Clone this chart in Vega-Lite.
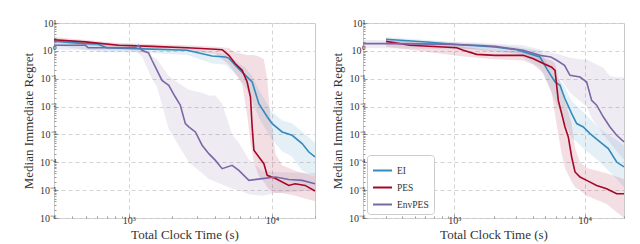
{
  "$schema": "https://vega.github.io/schema/vega-lite/v6.json",
  "padding": {"left": 22, "top": 17, "right": 5, "bottom": 0},
  "spacing": 12,
  "config": {
    "font": "Liberation Serif",
    "view": {"stroke": "#c8c8c8", "strokeWidth": 1},
    "axis": {
      "domain": false,
      "grid": true,
      "gridDash": [4, 3],
      "gridColor": "#d4d4d4",
      "gridWidth": 1,
      "labelFont": "Liberation Serif",
      "titleFont": "Liberation Serif",
      "labelFontSize": 10,
      "titleFontSize": 13,
      "titleFontWeight": "normal",
      "labelColor": "#333333",
      "titleColor": "#333333",
      "tickColor": "#999999",
      "labelOverlap": false
    },
    "axisX": {"labelPadding": 1, "titlePadding": 1},
    "axisY": {"labelPadding": 2, "titlePadding": 4},
    "legend": {"labelFont": "Liberation Serif"}
  },
  "resolve": {"scale": {"color": "independent"}, "legend": {"color": "independent"}},
  "datasets": {
    "lines": [
      {"p":"L","m":"EI","t":300,"v":2.24},{"p":"L","m":"EI","t":497,"v":1.82},{"p":"L","m":"EI","t":600,"v":1.78},{"p":"L","m":"EI","t":700,"v":1.29},{"p":"L","m":"EI","t":1104,"v":1.2},{"p":"L","m":"EI","t":2553,"v":1.05},{"p":"L","m":"EI","t":3819,"v":0.65},{"p":"L","m":"EI","t":4732,"v":0.6},{"p":"L","m":"EI","t":5000,"v":0.55},{"p":"L","m":"EI","t":5715,"v":0.26},{"p":"L","m":"EI","t":6531,"v":0.132},{"p":"L","m":"EI","t":7278,"v":0.076},{"p":"L","m":"EI","t":8107,"v":0.0126},{"p":"L","m":"EI","t":9268,"v":0.0043},{"p":"L","m":"EI","t":10044,"v":0.00245},{"p":"L","m":"EI","t":11786,"v":0.00123},{"p":"L","m":"EI","t":13840,"v":0.00093},{"p":"L","m":"EI","t":16255,"v":0.00047},{"p":"L","m":"EI","t":18113,"v":0.000234},{"p":"L","m":"EI","t":20000,"v":0.000155},
      {"p":"L","m":"PES","t":300,"v":2.5},{"p":"L","m":"PES","t":497,"v":2.1},{"p":"L","m":"PES","t":849,"v":1.58},{"p":"L","m":"PES","t":1452,"v":1.45},{"p":"L","m":"PES","t":2553,"v":1.29},{"p":"L","m":"PES","t":4027,"v":1.14},{"p":"L","m":"PES","t":4500,"v":1.1},{"p":"L","m":"PES","t":5000,"v":0.69},{"p":"L","m":"PES","t":5534,"v":0.35},{"p":"L","m":"PES","t":6194,"v":0.2},{"p":"L","m":"PES","t":6714,"v":0.076},{"p":"L","m":"PES","t":7080,"v":0.022},{"p":"L","m":"PES","t":7278,"v":0.00186},{"p":"L","m":"PES","t":7482,"v":0.00027},{"p":"L","m":"PES","t":8107,"v":0.000155},{"p":"L","m":"PES","t":8787,"v":0.000089},{"p":"L","m":"PES","t":9268,"v":0.000034},{"p":"L","m":"PES","t":10593,"v":0.000026},{"p":"L","m":"PES","t":13125,"v":0.0000148},{"p":"L","m":"PES","t":14526,"v":0.000017},{"p":"L","m":"PES","t":17060,"v":0.0000148},{"p":"L","m":"PES","t":20000,"v":0.0000093},
      {"p":"L","m":"EnvPES","t":300,"v":1.58},{"p":"L","m":"EnvPES","t":497,"v":1.58},{"p":"L","m":"EnvPES","t":520,"v":1.29},{"p":"L","m":"EnvPES","t":1104,"v":1.29},{"p":"L","m":"EnvPES","t":1172,"v":1.58},{"p":"L","m":"EnvPES","t":1236,"v":1.05},{"p":"L","m":"EnvPES","t":1377,"v":0.83},{"p":"L","m":"EnvPES","t":1452,"v":0.46},{"p":"L","m":"EnvPES","t":1574,"v":0.2},{"p":"L","m":"EnvPES","t":1706,"v":0.087},{"p":"L","m":"EnvPES","t":1901,"v":0.058},{"p":"L","m":"EnvPES","t":2114,"v":0.022},{"p":"L","m":"EnvPES","t":2291,"v":0.0112},{"p":"L","m":"EnvPES","t":2483,"v":0.00245},{"p":"L","m":"EnvPES","t":2624,"v":0.00186},{"p":"L","m":"EnvPES","t":2918,"v":0.00123},{"p":"L","m":"EnvPES","t":3251,"v":0.00041},{"p":"L","m":"EnvPES","t":3622,"v":0.000204},{"p":"L","m":"EnvPES","t":4027,"v":0.000117},{"p":"L","m":"EnvPES","t":4487,"v":0.000059},{"p":"L","m":"EnvPES","t":5271,"v":0.000078},{"p":"L","m":"EnvPES","t":5872,"v":0.000051},{"p":"L","m":"EnvPES","t":6902,"v":0.0000224},{"p":"L","m":"EnvPES","t":8546,"v":0.000026},{"p":"L","m":"EnvPES","t":10593,"v":0.0000295},{"p":"L","m":"EnvPES","t":13125,"v":0.000024},{"p":"L","m":"EnvPES","t":16255,"v":0.0000224},{"p":"L","m":"EnvPES","t":20000,"v":0.000017},
      {"p":"R","m":"EI","t":300,"v":2.6},{"p":"R","m":"EI","t":615,"v":2.09},{"p":"R","m":"EI","t":1107,"v":1.66},{"p":"R","m":"EI","t":2054,"v":1.38},{"p":"R","m":"EI","t":3011,"v":1.1},{"p":"R","m":"EI","t":4540,"v":0.6},{"p":"R","m":"EI","t":5112,"v":0.23},{"p":"R","m":"EI","t":5921,"v":0.076},{"p":"R","m":"EI","t":6465,"v":0.058},{"p":"R","m":"EI","t":7058,"v":0.019},{"p":"R","m":"EI","t":7944,"v":0.0056},{"p":"R","m":"EI","t":8680,"v":0.00245},{"p":"R","m":"EI","t":9756,"v":0.00186},{"p":"R","m":"EI","t":10975,"v":0.00107},{"p":"R","m":"EI","t":13085,"v":0.00054},{"p":"R","m":"EI","t":15160,"v":0.00031},{"p":"R","m":"EI","t":17570,"v":0.000102},{"p":"R","m":"EI","t":20000,"v":0.000068},
      {"p":"R","m":"PES","t":300,"v":2.19},{"p":"R","m":"PES","t":458,"v":1.58},{"p":"R","m":"PES","t":825,"v":1.38},{"p":"R","m":"PES","t":1044,"v":1.29},{"p":"R","m":"PES","t":1174,"v":1.05},{"p":"R","m":"PES","t":1486,"v":0.75},{"p":"R","m":"PES","t":2054,"v":0.69},{"p":"R","m":"PES","t":3384,"v":0.69},{"p":"R","m":"PES","t":4036,"v":0.52},{"p":"R","m":"PES","t":4816,"v":0.35},{"p":"R","m":"PES","t":5588,"v":0.26},{"p":"R","m":"PES","t":5921,"v":0.2},{"p":"R","m":"PES","t":6274,"v":0.0166},{"p":"R","m":"PES","t":6657,"v":0.0056},{"p":"R","m":"PES","t":7058,"v":0.00186},{"p":"R","m":"PES","t":7484,"v":0.00081},{"p":"R","m":"PES","t":7944,"v":0.000155},{"p":"R","m":"PES","t":8428,"v":0.000045},{"p":"R","m":"PES","t":9206,"v":0.0000295},{"p":"R","m":"PES","t":10349,"v":0.0000224},{"p":"R","m":"PES","t":12340,"v":0.0000148},{"p":"R","m":"PES","t":14720,"v":0.0000112},{"p":"R","m":"PES","t":17570,"v":0.0000074},{"p":"R","m":"PES","t":20000,"v":0.0000074},
      {"p":"R","m":"EnvPES","t":200,"v":1.82},{"p":"R","m":"EnvPES","t":300,"v":1.82},{"p":"R","m":"EnvPES","t":825,"v":1.74},{"p":"R","m":"EnvPES","t":1486,"v":1.58},{"p":"R","m":"EnvPES","t":2054,"v":1.45},{"p":"R","m":"EnvPES","t":3384,"v":1.05},{"p":"R","m":"EnvPES","t":4540,"v":0.69},{"p":"R","m":"EnvPES","t":5500,"v":0.6},{"p":"R","m":"EnvPES","t":6101,"v":0.46},{"p":"R","m":"EnvPES","t":7000,"v":0.3},{"p":"R","m":"EnvPES","t":7711,"v":0.132},{"p":"R","m":"EnvPES","t":9206,"v":0.115},{"p":"R","m":"EnvPES","t":10349,"v":0.076},{"p":"R","m":"EnvPES","t":11300,"v":0.0166},{"p":"R","m":"EnvPES","t":12340,"v":0.0112},{"p":"R","m":"EnvPES","t":13870,"v":0.0043},{"p":"R","m":"EnvPES","t":15620,"v":0.00186},{"p":"R","m":"EnvPES","t":17570,"v":0.00093},{"p":"R","m":"EnvPES","t":20000,"v":0.00054}
    ],
    "bands": [
      {"p":"L","m":"EI","t":300,"lo":1.58,"hi":2.82},{"p":"L","m":"EI","t":650,"lo":0.89,"hi":1.78},{"p":"L","m":"EI","t":1104,"lo":0.89,"hi":1.58},{"p":"L","m":"EI","t":2553,"lo":0.71,"hi":1.32},{"p":"L","m":"EI","t":3819,"lo":0.355,"hi":0.89},{"p":"L","m":"EI","t":4732,"lo":0.316,"hi":0.79},{"p":"L","m":"EI","t":5715,"lo":0.126,"hi":0.4},{"p":"L","m":"EI","t":6531,"lo":0.05,"hi":0.25},{"p":"L","m":"EI","t":7278,"lo":0.0158,"hi":0.126},{"p":"L","m":"EI","t":8107,"lo":0.004,"hi":0.04},{"p":"L","m":"EI","t":9268,"lo":0.00126,"hi":0.0126},{"p":"L","m":"EI","t":10044,"lo":0.00063,"hi":0.0063},{"p":"L","m":"EI","t":11786,"lo":0.00025,"hi":0.00316},{"p":"L","m":"EI","t":13840,"lo":0.000158,"hi":0.0025},{"p":"L","m":"EI","t":16255,"lo":0.00005,"hi":0.00126},{"p":"L","m":"EI","t":20000,"lo":0.0000316,"hi":0.0005},
      {"p":"L","m":"PES","t":300,"lo":2.0,"hi":3.16},{"p":"L","m":"PES","t":849,"lo":1.26,"hi":1.9},{"p":"L","m":"PES","t":2553,"lo":1.0,"hi":1.58},{"p":"L","m":"PES","t":4027,"lo":0.79,"hi":1.41},{"p":"L","m":"PES","t":5000,"lo":0.316,"hi":1.26},{"p":"L","m":"PES","t":5534,"lo":0.158,"hi":0.89},{"p":"L","m":"PES","t":6194,"lo":0.063,"hi":0.79},{"p":"L","m":"PES","t":6714,"lo":0.005,"hi":0.71},{"p":"L","m":"PES","t":7080,"lo":0.0005,"hi":0.71},{"p":"L","m":"PES","t":7482,"lo":0.0001,"hi":0.71},{"p":"L","m":"PES","t":8107,"lo":0.0000316,"hi":0.63},{"p":"L","m":"PES","t":8787,"lo":0.00002,"hi":0.5},{"p":"L","m":"PES","t":9268,"lo":0.0000126,"hi":0.1},{"p":"L","m":"PES","t":9756,"lo":0.00001,"hi":0.004},{"p":"L","m":"PES","t":10593,"lo":0.0000079,"hi":0.0002},{"p":"L","m":"PES","t":11786,"lo":0.0000079,"hi":0.000079},{"p":"L","m":"PES","t":14526,"lo":0.0000063,"hi":0.00005},{"p":"L","m":"PES","t":20000,"lo":0.000004,"hi":0.0000316},
      {"p":"L","m":"EnvPES","t":300,"lo":1.12,"hi":2.0},{"p":"L","m":"EnvPES","t":1104,"lo":1.0,"hi":1.78},{"p":"L","m":"EnvPES","t":1236,"lo":0.63,"hi":1.41},{"p":"L","m":"EnvPES","t":1452,"lo":0.1,"hi":0.63},{"p":"L","m":"EnvPES","t":1574,"lo":0.05,"hi":0.5},{"p":"L","m":"EnvPES","t":1901,"lo":0.00158,"hi":0.126},{"p":"L","m":"EnvPES","t":2291,"lo":0.000316,"hi":0.063},{"p":"L","m":"EnvPES","t":2624,"lo":0.0001,"hi":0.04},{"p":"L","m":"EnvPES","t":3251,"lo":0.00004,"hi":0.0316},{"p":"L","m":"EnvPES","t":3622,"lo":0.000025,"hi":0.025},{"p":"L","m":"EnvPES","t":4027,"lo":0.00002,"hi":0.025},{"p":"L","m":"EnvPES","t":4487,"lo":0.0000158,"hi":0.0126},{"p":"L","m":"EnvPES","t":5271,"lo":0.0000112,"hi":0.001},{"p":"L","m":"EnvPES","t":5872,"lo":0.00001,"hi":0.0005},{"p":"L","m":"EnvPES","t":6902,"lo":0.0000071,"hi":0.000126},{"p":"L","m":"EnvPES","t":8546,"lo":0.0000063,"hi":0.00005},{"p":"L","m":"EnvPES","t":10593,"lo":0.0000079,"hi":0.000045},{"p":"L","m":"EnvPES","t":20000,"lo":0.00001,"hi":0.00004},
      {"p":"R","m":"EI","t":300,"lo":2.0,"hi":3.16},{"p":"R","m":"EI","t":1107,"lo":1.26,"hi":2.0},{"p":"R","m":"EI","t":3011,"lo":0.79,"hi":1.41},{"p":"R","m":"EI","t":4540,"lo":0.25,"hi":1.0},{"p":"R","m":"EI","t":5112,"lo":0.079,"hi":0.4},{"p":"R","m":"EI","t":5921,"lo":0.0158,"hi":0.158},{"p":"R","m":"EI","t":7058,"lo":0.0025,"hi":0.05},{"p":"R","m":"EI","t":7944,"lo":0.00079,"hi":0.0158},{"p":"R","m":"EI","t":9756,"lo":0.000316,"hi":0.0063},{"p":"R","m":"EI","t":13085,"lo":0.0001,"hi":0.00158},{"p":"R","m":"EI","t":17570,"lo":0.000025,"hi":0.00063},{"p":"R","m":"EI","t":20000,"lo":0.0000126,"hi":0.0004},
      {"p":"R","m":"PES","t":300,"lo":1.41,"hi":2.63},{"p":"R","m":"PES","t":1174,"lo":0.63,"hi":1.41},{"p":"R","m":"PES","t":2054,"lo":0.5,"hi":1.0},{"p":"R","m":"PES","t":3384,"lo":0.45,"hi":1.0},{"p":"R","m":"PES","t":4036,"lo":0.316,"hi":0.79},{"p":"R","m":"PES","t":4816,"lo":0.158,"hi":0.56},{"p":"R","m":"PES","t":5588,"lo":0.0316,"hi":0.45},{"p":"R","m":"PES","t":5921,"lo":0.005,"hi":0.355},{"p":"R","m":"PES","t":6274,"lo":0.001,"hi":0.126},{"p":"R","m":"PES","t":6657,"lo":0.0002,"hi":0.05},{"p":"R","m":"PES","t":7058,"lo":0.000063,"hi":0.0158},{"p":"R","m":"PES","t":7944,"lo":0.00002,"hi":0.0025},{"p":"R","m":"PES","t":8428,"lo":0.0000126,"hi":0.000316},{"p":"R","m":"PES","t":9206,"lo":0.00001,"hi":0.0001},{"p":"R","m":"PES","t":10349,"lo":0.0000063,"hi":0.000063},{"p":"R","m":"PES","t":14720,"lo":0.00000316,"hi":0.00004},{"p":"R","m":"PES","t":20000,"lo":0.000001,"hi":0.000025},
      {"p":"R","m":"EnvPES","t":200,"lo":1.26,"hi":2.51},{"p":"R","m":"EnvPES","t":1486,"lo":1.12,"hi":2.0},{"p":"R","m":"EnvPES","t":3384,"lo":0.79,"hi":1.58},{"p":"R","m":"EnvPES","t":4540,"lo":0.4,"hi":1.12},{"p":"R","m":"EnvPES","t":6101,"lo":0.158,"hi":0.79},{"p":"R","m":"EnvPES","t":7711,"lo":0.0316,"hi":0.56},{"p":"R","m":"EnvPES","t":9206,"lo":0.0158,"hi":0.5},{"p":"R","m":"EnvPES","t":10349,"lo":0.01,"hi":0.5},{"p":"R","m":"EnvPES","t":11300,"lo":0.004,"hi":0.4},{"p":"R","m":"EnvPES","t":13870,"lo":0.001,"hi":0.25},{"p":"R","m":"EnvPES","t":15620,"lo":0.0005,"hi":0.126},{"p":"R","m":"EnvPES","t":17570,"lo":0.00025,"hi":0.112},{"p":"R","m":"EnvPES","t":20000,"lo":0.000126,"hi":0.112}
    ]
  },
  "hconcat": [
    {
      "width": 261,
      "height": 195,
      "encoding": {
        "x": {
          "field": "t", "type": "quantitative",
          "scale": {"type": "log", "domain": [300, 20000]},
          "axis": {
            "title": "Total Clock Time (s)",
            "values": [300,400,500,600,700,800,900,1000,2000,3000,4000,5000,6000,7000,8000,9000,10000,20000],
            "labelExpr": "abs(log(datum.value)/LN10-round(log(datum.value)/LN10))<0.001 ? '10' + replace(replace(''+round(log(datum.value)/LN10),'3','³'),'4','⁴') : ''",
            "gridOpacity": {"condition": {"test": "abs(log(datum.value)/LN10-round(log(datum.value)/LN10))<0.001", "value": 1}, "value": 0},
            "tickSize": {"condition": {"test": "abs(log(datum.value)/LN10-round(log(datum.value)/LN10))<0.001", "value": -4}, "value": -2}
          }
        },
        "y": {"field": "lo", "type": "quantitative", "scale": {"type": "log", "domain": [0.000001, 10]}, "title": "Median Immediate Regret"}
      },
      "layer": [
        {"data": {"name": "bands"}, "transform": [{"filter": "datum.p == 'L' && datum.m == 'EI'"}], "mark": {"type": "area", "color": "#348ABD", "fillOpacity": 0.13}, "encoding": {"y2": {"field": "hi"}}},
        {"data": {"name": "bands"}, "transform": [{"filter": "datum.p == 'L' && datum.m == 'PES'"}], "mark": {"type": "area", "color": "#A60628", "fillOpacity": 0.13}, "encoding": {"y2": {"field": "hi"}}},
        {"data": {"name": "bands"}, "transform": [{"filter": "datum.p == 'L' && datum.m == 'EnvPES'"}], "mark": {"type": "area", "color": "#7A68A6", "fillOpacity": 0.13}, "encoding": {"y2": {"field": "hi"}}},
        {
          "data": {"name": "lines"},
          "transform": [{"filter": "datum.p == 'L'"}],
          "mark": {"type": "line", "strokeWidth": 1.6},
          "encoding": {
            "y": {
              "field": "v", "type": "quantitative",
              "scale": {"type": "log", "domain": [0.000001, 10]},
              "axis": {
                "title": "Median Immediate Regret",
                "values": [0.000001,0.000002,0.000003,0.000004,0.000005,0.000006,0.000007,0.000008,0.000009,0.00001,0.00002,0.00003,0.00004,0.00005,0.00006,0.00007,0.00008,0.00009,0.0001,0.0002,0.0003,0.0004,0.0005,0.0006,0.0007,0.0008,0.0009,0.001,0.002,0.003,0.004,0.005,0.006,0.007,0.008,0.009,0.01,0.02,0.03,0.04,0.05,0.06,0.07,0.08,0.09,0.1,0.2,0.3,0.4,0.5,0.6,0.7,0.8,0.9,1,2,3,4,5,6,7,8,9,10],
                "labelExpr": "abs(log(datum.value)/LN10-round(log(datum.value)/LN10))<0.001 ? '10' + replace(replace(replace(replace(replace(replace(replace(replace(''+round(log(datum.value)/LN10),'-','⁻'),'0','⁰'),'1','¹'),'2','²'),'3','³'),'4','⁴'),'5','⁵'),'6','⁶') : ''",
                "gridOpacity": {"condition": {"test": "abs(log(datum.value)/LN10-round(log(datum.value)/LN10))<0.001", "value": 1}, "value": 0},
                "tickSize": {"condition": {"test": "abs(log(datum.value)/LN10-round(log(datum.value)/LN10))<0.001", "value": -4}, "value": -2}
              }
            },
            "color": {"field": "m", "type": "nominal", "scale": {"domain": ["EI","PES","EnvPES"], "range": ["#348ABD","#A60628","#7A68A6"]}, "legend": null}
          }
        }
      ]
    },
    {
      "width": 261,
      "height": 195,
      "encoding": {
        "x": {
          "field": "t", "type": "quantitative",
          "scale": {"type": "log", "domain": [200, 20000]},
          "axis": {
            "title": "Total Clock Time (s)",
            "values": [200,300,400,500,600,700,800,900,1000,2000,3000,4000,5000,6000,7000,8000,9000,10000,20000],
            "labelExpr": "abs(log(datum.value)/LN10-round(log(datum.value)/LN10))<0.001 ? '10' + replace(replace(''+round(log(datum.value)/LN10),'3','³'),'4','⁴') : ''",
            "gridOpacity": {"condition": {"test": "abs(log(datum.value)/LN10-round(log(datum.value)/LN10))<0.001", "value": 1}, "value": 0},
            "tickSize": {"condition": {"test": "abs(log(datum.value)/LN10-round(log(datum.value)/LN10))<0.001", "value": -4}, "value": -2}
          }
        },
        "y": {"field": "lo", "type": "quantitative", "scale": {"type": "log", "domain": [0.000001, 10]}, "title": "Median Immediate Regret"}
      },
      "layer": [
        {"data": {"name": "bands"}, "transform": [{"filter": "datum.p == 'R' && datum.m == 'EI'"}], "mark": {"type": "area", "color": "#348ABD", "fillOpacity": 0.13}, "encoding": {"y2": {"field": "hi"}}},
        {"data": {"name": "bands"}, "transform": [{"filter": "datum.p == 'R' && datum.m == 'PES'"}], "mark": {"type": "area", "color": "#A60628", "fillOpacity": 0.13}, "encoding": {"y2": {"field": "hi"}}},
        {"data": {"name": "bands"}, "transform": [{"filter": "datum.p == 'R' && datum.m == 'EnvPES'"}], "mark": {"type": "area", "color": "#7A68A6", "fillOpacity": 0.13}, "encoding": {"y2": {"field": "hi"}}},
        {
          "data": {"name": "lines"},
          "transform": [{"filter": "datum.p == 'R'"}],
          "mark": {"type": "line", "strokeWidth": 1.6},
          "encoding": {
            "y": {
              "field": "v", "type": "quantitative",
              "scale": {"type": "log", "domain": [0.000001, 10]},
              "axis": {
                "title": "Median Immediate Regret",
                "values": [0.000001,0.000002,0.000003,0.000004,0.000005,0.000006,0.000007,0.000008,0.000009,0.00001,0.00002,0.00003,0.00004,0.00005,0.00006,0.00007,0.00008,0.00009,0.0001,0.0002,0.0003,0.0004,0.0005,0.0006,0.0007,0.0008,0.0009,0.001,0.002,0.003,0.004,0.005,0.006,0.007,0.008,0.009,0.01,0.02,0.03,0.04,0.05,0.06,0.07,0.08,0.09,0.1,0.2,0.3,0.4,0.5,0.6,0.7,0.8,0.9,1,2,3,4,5,6,7,8,9,10],
                "labelExpr": "abs(log(datum.value)/LN10-round(log(datum.value)/LN10))<0.001 ? '10' + replace(replace(replace(replace(replace(replace(replace(replace(''+round(log(datum.value)/LN10),'-','⁻'),'0','⁰'),'1','¹'),'2','²'),'3','³'),'4','⁴'),'5','⁵'),'6','⁶') : ''",
                "gridOpacity": {"condition": {"test": "abs(log(datum.value)/LN10-round(log(datum.value)/LN10))<0.001", "value": 1}, "value": 0},
                "tickSize": {"condition": {"test": "abs(log(datum.value)/LN10-round(log(datum.value)/LN10))<0.001", "value": -4}, "value": -2}
              }
            },
            "color": {
              "field": "m", "type": "nominal",
              "scale": {"domain": ["EI","PES","EnvPES"], "range": ["#348ABD","#A60628","#7A68A6"]},
              "legend": {"title": null, "orient": "bottom-left", "offset": 4, "symbolType": "stroke", "symbolSize": 360, "symbolStrokeWidth": 2, "labelFontSize": 9.5, "labelColor": "#333333", "fillColor": "white", "strokeColor": "#cccccc", "cornerRadius": 3, "padding": 5, "rowPadding": 2}
            }
          }
        }
      ]
    }
  ]
}
